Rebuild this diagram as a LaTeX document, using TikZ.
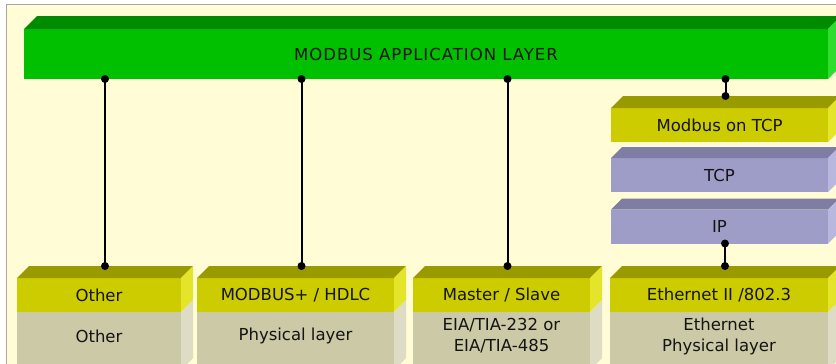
\documentclass[tikz,border=0pt]{standalone}
\usepackage{fontspec}
\setmainfont{DejaVu Sans}
\usetikzlibrary{calc}
\definecolor{bgcream}{HTML}{FFFCD6}
\definecolor{frame}{HTML}{A8A8A0}
\definecolor{gfront}{HTML}{00C000}
\definecolor{gtop}{HTML}{008A00}
\definecolor{gside}{HTML}{30DC30}
\definecolor{yfront}{HTML}{CCCC00}
\definecolor{ytop}{HTML}{999900}
\definecolor{yside}{HTML}{E4E42A}
\definecolor{kfront}{HTML}{CBC9A6}
\definecolor{kside}{HTML}{DEDCC4}
\definecolor{pfront}{HTML}{9D9DC8}
\definecolor{ptop}{HTML}{7E7EA5}
\definecolor{pside}{HTML}{B8B8DE}
\definecolor{txt}{HTML}{141414}
\tikzset{
  face/.style={inner sep=0pt, outer sep=0pt, text=txt, font=\fontsize{16.5}{21}\selectfont, align=center},
  conn/.style={line width=2pt, black},
  dot/.style={circle, fill=black, inner sep=0pt, minimum size=8pt},
}
\newcommand{\topside}[4]{% node, top colour, side colour, depth
  \fill[#2] (#1.north west) -- ++(#4,-#4) -- ($(#1.north east)+(#4,-#4)$) -- (#1.north east) -- cycle;
  \fill[#3] (#1.north east) -- ++(#4,-#4) -- ($(#1.south east)+(#4,-#4)$) -- (#1.south east) -- cycle;
}
% name, centre x, width, upper text, lower text
\newcommand{\lowerbox}[5]{%
  \node[face, fill=yfront, minimum width=#3pt, minimum height=34pt] (#1u) at (#2,295) {#4};
  \node[face, fill=kfront, minimum width=#3pt, minimum height=58pt, anchor=north] (#1l) at (#1u.south) {};
  \node[face] (#1t) at ($(#1l.north)+(0,24)$) {#5};
  \fill[ytop] (#1u.north west) -- ++(12,-12) -- ($(#1u.north east)+(12,-12)$) -- (#1u.north east) -- cycle;
  \fill[yside] (#1u.north east) -- ++(12,-12) -- ($(#1u.south east)+(12,-12)$) -- (#1u.south east) -- cycle;
  \fill[kside] (#1l.north east) -- ++(12,-12) -- ($(#1l.south east)+(12,-12)$) -- (#1l.south east) -- cycle;
  \coordinate (#1top) at ($(#1u.north)+(6,-12)$);
}
\begin{document}
\begin{tikzpicture}[x=1pt,y=-1pt]
\useasboundingbox (0,0) rectangle (836,364);
\fill[white] (0,0) rectangle (836,364);
\fill[bgcream] (6,4) rectangle (840,370);
\draw[frame, line width=1pt] (6,370) -- (6,4) -- (840,4);

% application layer
\node[face, fill=gfront, minimum width=804pt, minimum height=50pt] (app) at (426,54) {\addfontfeature{LetterSpace=6}MODBUS APPLICATION LAYER};
\topside{app}{gtop}{gside}{13}

% TCP/IP stack
\node[face, fill=yfront, minimum width=217pt, minimum height=34pt] (mtcp) at (719.5,125) {Modbus on TCP};
\topside{mtcp}{ytop}{yside}{12}
\node[face, fill=pfront, minimum width=217pt, minimum height=34pt] (tcp) at (719.5,175) {TCP};
\topside{tcp}{ptop}{pside}{11}
\node[face, fill=pfront, minimum width=217pt, minimum height=34pt] (ip) at (719.5,226.5) {IP};
\topside{ip}{ptop}{pside}{11}

% bottom boxes
\lowerbox{b1}{99}{164}{Other}{Other}
\lowerbox{b2}{295.5}{197}{MODBUS+ / HDLC}{Physical layer}
\lowerbox{b3}{501.5}{177}{Master / Slave}{EIA/TIA-232 or\\EIA/TIA-485}
\lowerbox{b4}{719}{218}{Ethernet II /802.3}{Ethernet\\Physical layer}
\coordinate (mtop) at ($(mtcp.north)+(6,-12)$);

% connectors
\foreach \n in {b1,b2,b3}{
  \coordinate (\n s) at (app.south -| \n top);
  \draw[conn] (\n s) -- (\n top);
  \node[dot] at (\n s) {};
  \node[dot] at (\n top) {};
}
\coordinate (ms) at (app.south -| mtop);
\draw[conn] (ms) -- (mtop);
\node[dot] at (ms) {};
\node[dot] at (mtop) {};
\coordinate (ipb) at (ip.south -| b4top);
\draw[conn] (ipb) -- (b4top);
\node[dot] at (ipb) {};
\node[dot] at (b4top) {};
\end{tikzpicture}
\end{document}
